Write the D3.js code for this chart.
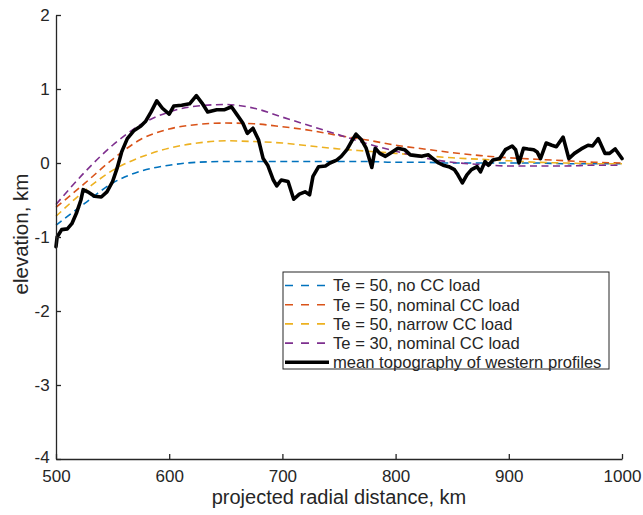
<!DOCTYPE html>
<html><head><meta charset="utf-8">
<script src="https://cdn.jsdelivr.net/npm/d3@7"></script>
<style>body{margin:0;background:#fff}svg{display:block}text{font-family:"Liberation Sans",Arial,Helvetica,sans-serif;fill:#262626}</style>
</head><body><svg id="c" width="643" height="515"></svg>
<script>
// ---- data ----
const xTicks = [500, 600, 700, 800, 900, 1000];
const yTicks = [2, 1, 0, -1, -2, -3, -4];
const modelKm = [500,525,550,575,600,625,650,675,700,725,750,775,800,825,850,875,900,925,950,975,1000];
const te50NoCC     = [-0.84,-0.55,-0.27,-0.11,-0.03,0.01,0.02,0.02,0.02,0.02,0.02,0.02,0.01,0.01,0.0,0.0,0.0,0.0,-0.01,-0.01,-0.01];
const te50Nominal  = [-0.60,-0.28,0.05,0.32,0.46,0.52,0.54,0.53,0.49,0.44,0.37,0.31,0.24,0.19,0.14,0.10,0.07,0.05,0.03,0.01,0.0];
const te50Narrow   = [-0.72,-0.38,-0.10,0.08,0.20,0.27,0.30,0.29,0.27,0.23,0.19,0.16,0.13,0.10,0.07,0.05,0.03,0.01,0.0,-0.01,-0.01];
const te30Nominal  = [-0.56,-0.13,0.24,0.52,0.69,0.77,0.79,0.74,0.62,0.50,0.38,0.26,0.16,0.07,0.01,-0.02,-0.04,-0.04,-0.04,-0.03,-0.03];
const topoKm = [500,501,505,510,514,518,522,524,528,534,540,545,550,554,558,563,569,575,579,584,589,594,600,604,611,618,624,629,634,642,649,655,660,665,669,674,679,683,687,692,695,699,705,710,715,720,724,727,732,738,742,748,752,757,761,765,770,774,779,782,786,791,796,802,808,813,818,823,829,833,838,842,847,852,855,859,863,867,872,875,879,882,886,892,897,903,906,909,913,917,922,925,928,933,938,942,948,953,958,964,970,974,979,985,989,994,1000];
const topoElev = [-1.13,-1.0,-0.90,-0.89,-0.82,-0.68,-0.5,-0.36,-0.39,-0.45,-0.46,-0.39,-0.25,-0.07,0.15,0.33,0.44,0.50,0.56,0.69,0.84,0.74,0.66,0.77,0.78,0.80,0.91,0.81,0.69,0.72,0.72,0.76,0.65,0.54,0.40,0.47,0.31,0.06,-0.03,-0.23,-0.31,-0.23,-0.25,-0.49,-0.42,-0.39,-0.43,-0.18,-0.05,-0.04,0.0,0.04,0.09,0.18,0.29,0.39,0.31,0.20,-0.06,0.20,0.13,0.09,0.14,0.20,0.18,0.11,0.10,0.09,0.11,0.06,0.0,-0.03,-0.05,-0.09,-0.16,-0.27,-0.16,-0.09,-0.05,-0.12,0.02,-0.03,0.04,0.06,0.18,0.23,0.18,0.0,0.2,0.19,0.18,0.15,0.06,0.27,0.24,0.22,0.35,0.06,0.13,0.19,0.24,0.23,0.33,0.13,0.13,0.19,0.06];
const seriesNames = ["Te = 50, no CC load","Te = 50, nominal CC load","Te = 50, narrow CC load","Te = 30, nominal CC load","mean topography of western profiles"];
const seriesColors = ["#0072BD","#D95319","#EDB120","#7E2F8E","#000000"];
const xLabel = "projected radial distance, km";
const yLabel = "elevation, km";

// ---- layout ----
const L = 56, R = 622, T = 15, B = 459;
const svg = d3.select("#c");
const x = d3.scaleLinear().domain([500, 1000]).range([L, R]);
const y = d3.scaleLinear().domain([-4, 2]).range([B, T]);
const axisCol = "#262626";

// model curves
const models = [te50NoCC, te50Nominal, te50Narrow, te30Nominal];
const line = d3.line().x(d => x(d[0])).y(d => y(d[1])).curve(d3.curveMonotoneX);
models.forEach((vals, i) => {
  svg.append("path").datum(modelKm.map((k, j) => [k, vals[j]]))
    .attr("d", line).attr("fill", "none").attr("stroke", seriesColors[i])
    .attr("stroke-width", 1.6).attr("stroke-dasharray", "7,4.5");
});
// topography
const tline = d3.line().x(d => x(d[0])).y(d => y(d[1]));
svg.append("path").datum(topoKm.map((k, j) => [k, topoElev[j]]))
  .attr("d", tline).attr("fill", "none").attr("stroke", "#000")
  .attr("stroke-width", 3.6).attr("stroke-linejoin", "round").attr("stroke-linecap", "round");

// axes
const xAxis = svg.append("g").attr("transform", `translate(0,${B})`)
  .call(d3.axisBottom(x).tickValues(xTicks).tickSize(-5).tickSizeOuter(0).tickPadding(11).tickFormat(d3.format("d")));
const yAxis = svg.append("g").attr("transform", `translate(${L},0)`)
  .call(d3.axisLeft(y).tickValues(yTicks).tickSize(-5).tickSizeOuter(0).tickPadding(8).tickFormat(d => d < 0 ? "-" + Math.abs(d) : d));
[xAxis, yAxis].forEach(g => {
  g.select(".domain").attr("stroke", axisCol).attr("stroke-width", 1.3);
  g.selectAll(".tick line").attr("stroke", axisCol).attr("stroke-width", 1.3);
  g.selectAll(".tick text").attr("font-size", 17).attr("fill", axisCol)
    .style("font-family", '"Liberation Sans",Arial,sans-serif');
});
yAxis.selectAll(".tick text").attr("dx", "0.1em");
yAxis.selectAll(".tick text").filter(d => d === -4).attr("dy", "0.2em");
xAxis.selectAll(".tick text").attr("dy", "0.72em");

svg.append("text").attr("x", 339).attr("y", 504).attr("text-anchor", "middle")
  .attr("font-size", 20).text(xLabel);
svg.append("text").attr("transform", `translate(28,234) rotate(-90)`)
  .attr("text-anchor", "middle").attr("font-size", 20.5).text(yLabel);

// legend
const lg = svg.append("g").attr("transform", "translate(283,272)");
lg.append("rect").attr("x", 0).attr("y", 0).attr("width", 326).attr("height", 97)
  .attr("fill", "#fff").attr("stroke", "#262626").attr("stroke-width", 1);
seriesNames.forEach((nm, i) => {
  const yy = 13.5 + i * 19.2;
  const ln = lg.append("line").attr("x1", 2).attr("x2", 46).attr("y1", yy).attr("y2", yy)
    .attr("stroke", seriesColors[i]);
  if (i < 4) ln.attr("stroke-width", 1.6).attr("stroke-dasharray", "8,8");
  else ln.attr("stroke-width", 3.6);
  lg.append("text").attr("x", 50).attr("y", yy).attr("dy", "0.35em")
    .attr("font-size", 16.6).attr("fill", "#000").text(nm);
});
</script></body></html>
